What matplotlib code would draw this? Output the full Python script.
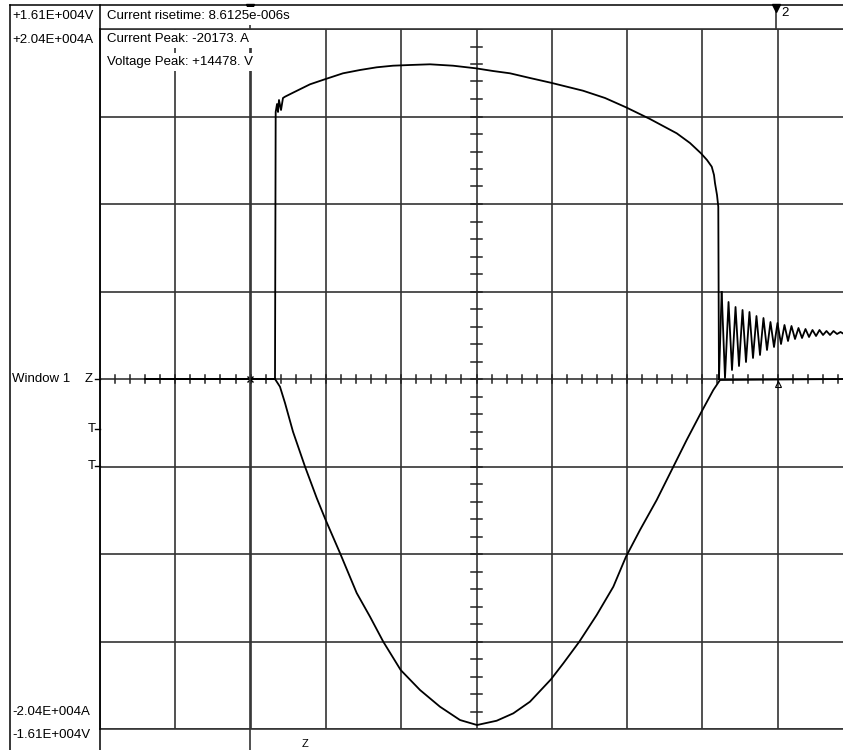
# scope capture: arc voltage / current, window 1
import matplotlib.pyplot as plt

W, H = 843, 750

# full scale (4 divisions up / down)
v_full = 16100.0   # V
a_full = 20400.0   # A

# time in screen divisions
volt_t = [0.60, 2.324, 2.333, 2.351, 2.364, 2.377, 2.404, 2.430, 2.457, 2.563, 2.789,
          2.997, 3.227, 3.453, 3.675, 3.891, 4.117, 4.382, 4.688, 4.990, 5.219,
          5.445, 5.710, 5.985, 6.414, 6.707, 6.985, 7.304, 7.659, 7.835, 7.981,
          8.061, 8.124, 8.154, 8.167, 8.194, 8.211, 8.220]
volt_v = [0, 0, 12282, 12650, 12282, 12834, 12374, 12926, 12986, 13170, 13556,
          13800, 14062, 14214, 14338, 14412, 14444, 14476, 14412, 14292, 14168,
          14062, 13846, 13630, 13262, 12926, 12498, 11960, 11302, 10856, 10382,
          10074, 9766, 9384, 9016, 8464, 7926, 0]

# ringing after the arc goes out
ring_t = [8.256, 8.300, 8.347, 8.393, 8.440, 8.486, 8.533, 8.579, 8.625, 8.672,
          8.718, 8.765, 8.811, 8.858, 8.904, 8.951, 8.997, 9.044, 9.090, 9.137,
          9.183, 9.230, 9.276, 9.323, 9.369, 9.416, 9.462, 9.509, 9.555, 9.602,
          9.648, 9.695, 9.741, 9.788, 9.834, 9.880]
ring_v = [4002, 46, 3542, 414, 3312, 598, 3174, 782, 3082, 966,
          2898, 1104, 2806, 1334, 2622, 1472, 2576, 1610, 2484, 1748,
          2438, 1840, 2346, 1886, 2300, 1932, 2254, 1978, 2254, 2024,
          2208, 2024, 2208, 2070, 2162, 2070]

curr_t = [0.60, 2.324, 2.390, 2.457, 2.563, 2.723, 2.878, 2.997, 3.187, 3.409,
          3.586, 3.762, 3.993, 4.250, 4.515, 4.781, 5.007, 5.268, 5.489, 5.710,
          5.989, 6.153, 6.365, 6.596, 6.817, 6.985, 7.171, 7.393, 7.614, 7.791,
          7.977, 8.145, 8.234, 9.880]
curr_a = [0, 0, -449, -1399, -3072, -5112, -6937, -8219, -10142, -12474,
          -13856, -15313, -16962, -18128, -19101, -19877, -20168, -19918, -19487, -18810,
          -17505, -16572, -15313, -13757, -12108, -10359, -8803, -7053, -5112, -3556,
          -2000, -641, -58, 0]

info_lines = ["Current risetime: 8.6125e-006s", "Current Peak: -20173. A",
              "Voltage Peak: +14478. V"]
scale_top = ["+1.61E+004V", "+2.04E+004A"]
scale_bot = ["-2.04E+004A", "-1.61E+004V"]


def fx(x):
    return x / W


def fy(y):
    return 1 - y / H


fig = plt.figure(figsize=(W / 100, H / 100), dpi=100)
plt.rcParams['font.family'] = ['Liberation Sans', 'DejaVu Sans']

left, top, bot = 100, 29, 729
xmax = (W - left) / 75.3
ax = fig.add_axes([fx(left), fy(bot), (W - left) / W, (bot - top) / H])
ax.set_xlim(0, xmax)
ax.set_ylim(-4, 4)
ax.set_xticks(range(0, 10))
ax.set_yticks(range(-4, 5))
ax.grid(True, color='#333333', lw=1.2)
ax.tick_params(length=0, labelbottom=False, labelleft=False)
ax.spines['right'].set_visible(False)
for s in ['left', 'top', 'bottom']:
    ax.spines[s].set_color('#333333')
    ax.spines[s].set_linewidth(1.2)

# centre cross with minor ticks
k = 0
while k * 0.2 <= xmax:
    ax.plot([k * 0.2, k * 0.2], [-0.05, 0.05], color='#222222', lw=1.1)
    k += 1
for k in range(-20, 21):
    ax.plot([4.933, 5.067], [k * 0.2, k * 0.2], color='#222222', lw=1.1)

ax.plot(volt_t, [v / v_full * 4 for v in volt_v], color='black', lw=1.3)
ax.plot(ring_t, [v / v_full * 4 for v in ring_v], color='black', lw=1.3)
ax.plot([volt_t[-1], ring_t[0]], [0, ring_v[0] / v_full * 4], color='black', lw=1.3)
ax.plot(curr_t, [a / a_full * 4 for a in curr_a], color='black', lw=1.3)

ax.plot([1.992], [0], marker='x', color='black', ms=5, mew=1)
ax.plot([9.0], [-0.06], marker='^', color='black', ms=5, mfc='none', mew=0.8)

# outer frame and side panel
frame = dict(color='black', lw=1.1)
fig.add_artist(plt.Line2D([fx(10), fx(10)], [fy(5), fy(750)], **frame))
fig.add_artist(plt.Line2D([fx(10), fx(W)], [fy(5), fy(5)], **frame))
fig.add_artist(plt.Line2D([fx(100), fx(100)], [fy(5), fy(750)], **frame))
fig.add_artist(plt.Line2D([fx(250), fx(250)], [fy(5), fy(750)], color='#333333', lw=1.2))
fig.add_artist(plt.Line2D([fx(776), fx(776)], [fy(5), fy(top)], color='#333333', lw=1.2))

for xm in [250, 776]:
    fig.add_artist(plt.Line2D([fx(xm)], [fy(8)], marker='v', color='black', ms=6))
fig.text(fx(781), fy(13), "2", fontsize=9.5, va='center')

fs = 9.5
for i, s in enumerate(scale_top):
    fig.text(fx(12), fy(16 + 24 * i), s, fontsize=fs, va='center')
for i, s in enumerate(scale_bot):
    fig.text(fx(12), fy(712 + 23 * i), s, fontsize=fs, va='center')

for i, s in enumerate(info_lines):
    fig.text(fx(107), fy(16 + 23 * i), s, fontsize=fs, va='center',
             bbox=dict(facecolor='white', edgecolor='none', pad=2))

fig.text(fx(12), fy(379), "Window 1", fontsize=fs, va='center')
fig.text(fx(85), fy(379), "Z", fontsize=fs, va='center')
fig.text(fx(88), fy(429), "T", fontsize=fs, va='center')
fig.text(fx(88), fy(466), "T", fontsize=fs, va='center')
for yy in [379, 429, 466]:
    fig.add_artist(plt.Line2D([fx(95), fx(100)], [fy(yy), fy(yy)], color='black', lw=1))
fig.text(fx(302), fy(739), "Z", fontsize=8, va='top')

fig.savefig("out.png", dpi=100)
